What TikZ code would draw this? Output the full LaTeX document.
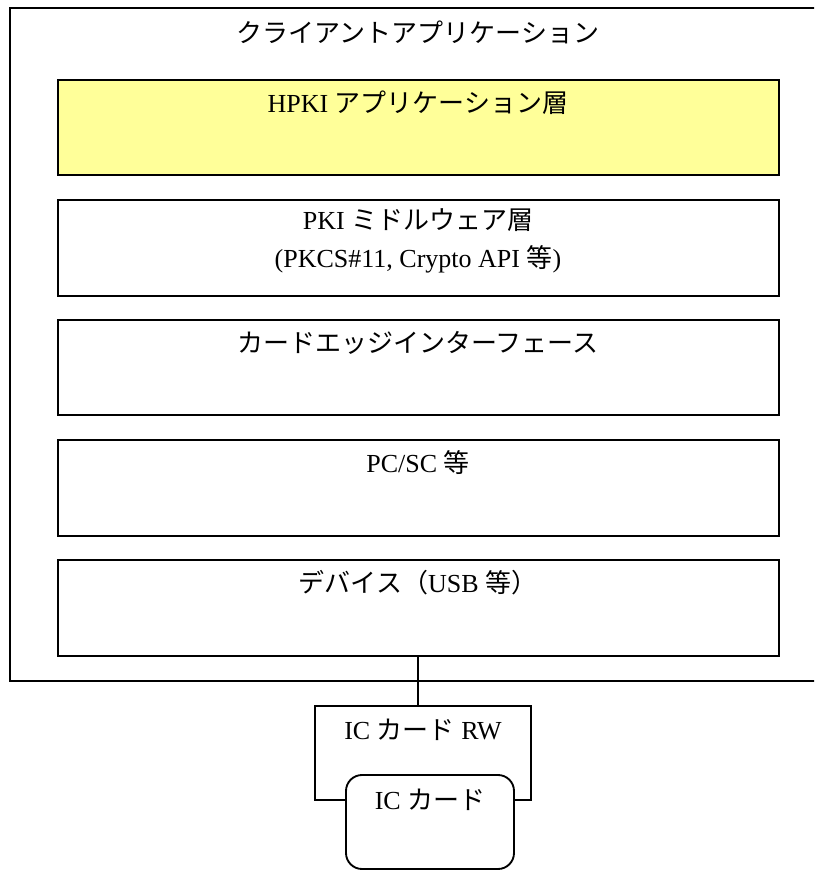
\documentclass[tikz,border=0pt]{standalone}
\usepackage{fontspec}
\setmainfont{Liberation Serif}
\newfontfamily\jp{Noto Sans CJK JP}[Scale=1.0]
\definecolor{paleyellow}{RGB}{255,255,153}
\begin{document}
\begin{tikzpicture}[x=0.75pt,y=-0.75pt,
  frame/.style={draw=black,line width=1.4pt},
  lbl/.style={font=\fontsize{19.5}{22}\selectfont,inner sep=0pt,align=center}]
\useasboundingbox (0,0) rectangle (814,871);
\clip (0,0) rectangle (814,871);
% outer client application frame (cut by right edge)
\draw[frame] (10,8) rectangle (840,681);
\node[lbl] (tclient) at (418,32) {\jp クライアントアプリケーション};
% layers
\draw[frame,fill=paleyellow] (58,80) rectangle (779,175);
\node[lbl] (thpki) at (418,103) {HPKI {\jp アプリケーション層}};
\draw[frame] (58,200) rectangle (779,296);
\node[lbl] (tpki) at (418,241) {PKI {\jp ミドルウェア層}\\[6pt](PKCS\#11, Crypto API {\jp 等})};
\draw[frame] (58,320) rectangle (779,415);
\node[lbl] (tcard) at (418,343) {\jp カードエッジインターフェース};
\draw[frame] (58,440) rectangle (779,536);
\node[lbl] (tpcsc) at (418,463) {PC/SC {\jp 等}};
\node[frame,rectangle,minimum width=721*0.75pt,minimum height=96*0.75pt,inner sep=0pt] (dev) at (418.5,608) {};
\node[lbl] (tdev) at (418,583) {{\jp デバイス（}USB {\jp 等）}};
% reader and card
\node[frame,rectangle,minimum width=216*0.75pt,minimum height=94*0.75pt,inner sep=0pt] (rw) at (423,753) {};
\node[lbl] (trw) at (423,730) {IC {\jp カード} RW};
\node[frame,fill=white,rectangle,rounded corners=12pt,minimum width=168*0.75pt,minimum height=94*0.75pt,inner sep=0pt] (card) at (430,822) {};
\node[lbl] (tic) at (430,800) {IC {\jp カード}};
\draw[frame] (dev.south -| 418,0) -- (rw.north -| 418,0);
\end{tikzpicture}
\end{document}
